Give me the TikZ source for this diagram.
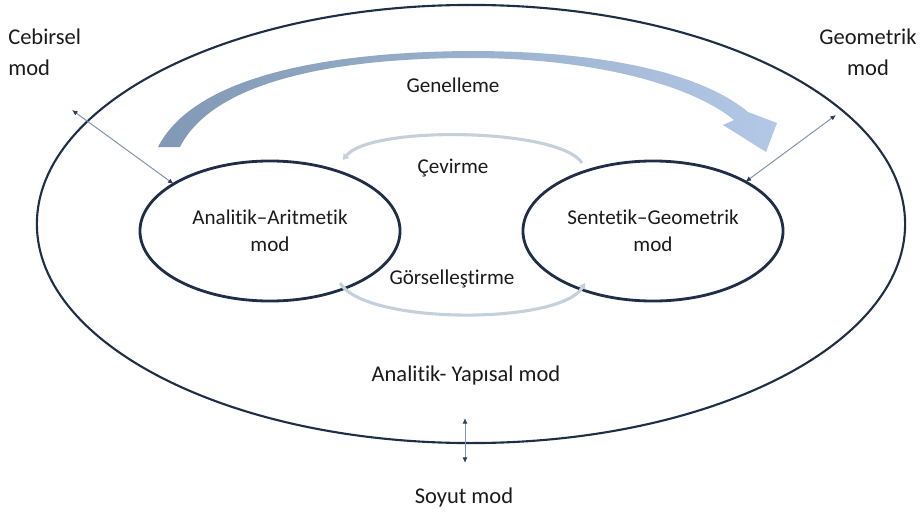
\documentclass[tikz,border=0pt]{standalone}
\usepackage{fontspec}
\setmainfont{Carlito}[Ligatures=NoCommon]
\usetikzlibrary{shapes.geometric,arrows.meta}
\definecolor{cizgi}{HTML}{1F2D47}
\definecolor{okgri}{HTML}{8393AA}
\definecolor{okuc}{HTML}{2E3D5C}
\definecolor{bantsol}{HTML}{8199B4}
\definecolor{bantorta}{HTML}{EEF2F6}
\definecolor{bantsag}{HTML}{B3C8E6}
\definecolor{donus}{HTML}{C6D0DB}
\definecolor{metin}{HTML}{1B1B1B}
\newcommand{\yazi}     {\fontsize{15}{19}\selectfont}
\newcommand{\disyazi}  {\fontsize{16}{22}\selectfont}

\tikzset{
  mod/.style={ellipse,draw=cizgi,line width=2pt,inner sep=0pt,outer sep=0pt,
    minimum width=6.5cm,minimum height=3.5cm,align=center,font=\yazi,text=metin},
  etiket/.style={inner sep=0pt,align=center,font=\yazi,text=metin},
  disetiket/.style={inner sep=0pt,font=\disyazi,text=metin},
  baglanti/.style={draw=okgri,line width=0.7pt,
    {Latex[length=4pt,width=3.5pt,color=okuc]}-{Latex[length=4pt,width=3.5pt,color=okuc]}},
  donusok/.style={draw=donus,line width=2.2pt,-{Triangle[length=4pt,width=5pt]}},
}

\begin{document}
\begin{tikzpicture}[x=0.025cm,y=-0.025cm]
   \useasboundingbox (0,0) rectangle (922,513);
   % dis elips ve icteki iki mod
   \node[ellipse,draw=cizgi,line width=1.5pt,inner sep=0pt,outer sep=0pt,
     minimum width=21.7cm,minimum height=10.95cm] (yapisal) at (471,224) {};
   \node[mod] (analitik) at (270,231) {Analitik--Aritmetik\\mod};
   \node[mod] (sentetik) at (653,231) {Sentetik--Geometrik\\mod};
   % genelleme bandi
   \shade[left color=bantsol,middle color=bantorta,right color=bantsag]
     (158,147) .. controls (195,75) and (330,52) .. (470,51)
     .. controls (600,51) and (700,72) .. (748,112)
     -- (777,123) -- (766,152) -- (723,125) -- (734,120)
     .. controls (690,84) and (590,58) .. (470,58)
     .. controls (345,58) and (215,78) .. (180,147) -- cycle;
   % cevirme ve gorsellestirme oklari
   \coordinate (cevbas) at (582,163);
   \coordinate (cevson) at (343,160);
   \coordinate (gorbas) at (340,283);
   \coordinate (gorson) at (585,283);
   \draw[donusok] (cevbas) .. controls (560,128) and (370,125) .. (cevson);
   \draw[donusok] (gorbas) .. controls (365,325) and (560,325) .. (gorson);
   % etiketler
   \node[disetiket,align=left,anchor=west] (cebirsel) at (8,52) {Cebirsel\\mod};
   \node[disetiket,align=center] (geometrik) at (868,52) {Geometrik\\mod};
   \node[etiket] (genelleme) at (453,85) {Genelleme};
   \node[etiket] (cevirme) at (453,168) {Çevirme};
   \node[etiket] (gorsel) at (452,279) {Görselleştirme};
   \node[disetiket] (yapisaletiket) at (466,375) {Analitik- Yapısal mod};
   \node[disetiket] (soyut) at (464,497) {Soyut mod};
   % cift yonlu oklar
   \coordinate (cebirok) at (72,110);
   \coordinate (geook) at (836,115);
   \coordinate (soyutust) at (465,418);
   \coordinate (soyutalt) at (465,463);
   \draw[baglanti] (cebirok) -- (analitik.154);
   \draw[baglanti] (geook) -- (sentetik.28);
   \draw[baglanti] (soyutust) -- (soyutalt);
\end{tikzpicture}
\end{document}
